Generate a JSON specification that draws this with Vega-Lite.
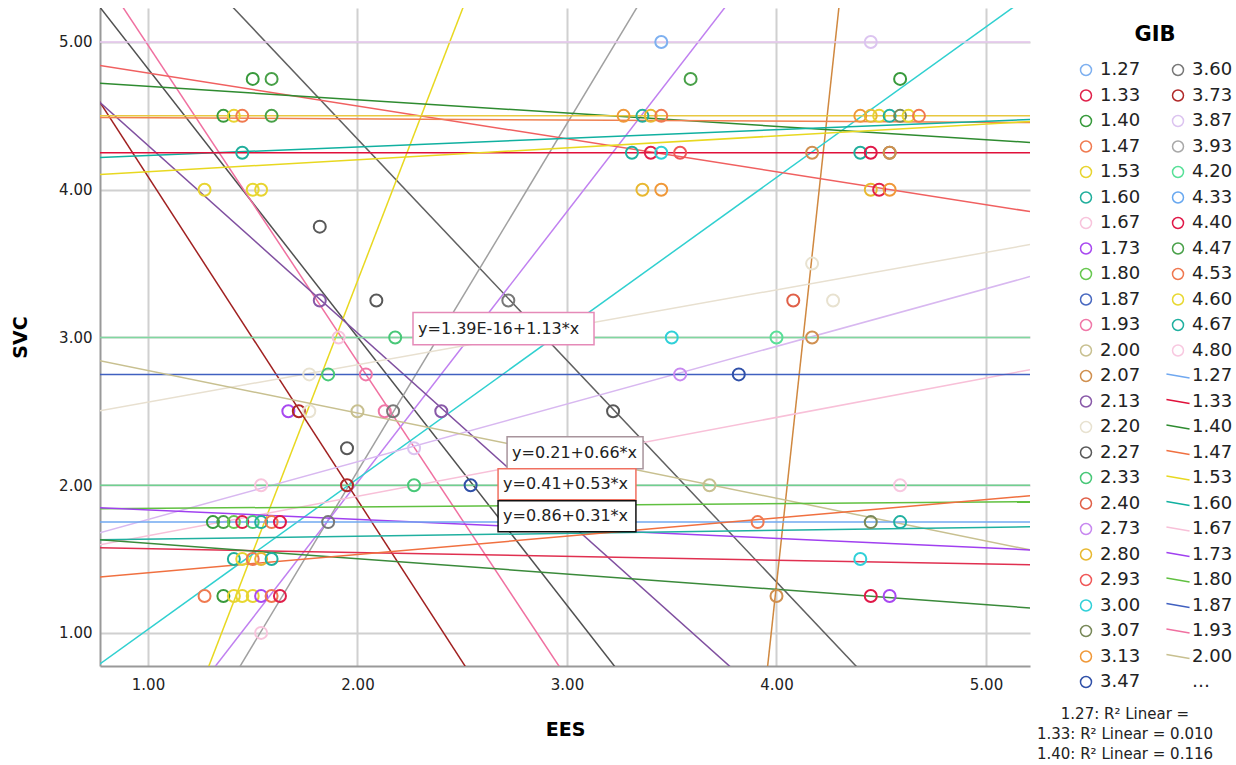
{
  "$schema": "https://vega.github.io/schema/vega-lite/v6.json",
  "width": 930,
  "height": 658,
  "autosize": {"type": "none"},
  "padding": {"left": 100, "top": 8, "right": 206, "bottom": 99},
  "background": "white",
  "config": {
    "view": {"stroke": null},
    "font": "DejaVu Sans"
  },
  "title": {
    "text": ["1.27: R² Linear =", "1.33: R² Linear = 0.010", "1.40: R² Linear = 0.116"],
    "orient": "bottom",
    "anchor": "end",
    "align": "center",
    "frame": "group",
    "font": "DejaVu Sans",
    "fontSize": 15,
    "fontWeight": "normal",
    "color": "#222222",
    "lineHeight": 20,
    "offset": -32,
    "dx": 95
  },
  "datasets": {
    "pts": [
      {"EES": 3.45, "SVC": 5.0, "key": "1.27"}, {"EES": 4.45, "SVC": 5.0, "key": "3.87"},
      {"EES": 1.50, "SVC": 4.75, "key": "1.40"}, {"EES": 1.59, "SVC": 4.75, "key": "4.47"}, {"EES": 3.59, "SVC": 4.75, "key": "4.47"}, {"EES": 4.59, "SVC": 4.75, "key": "1.40"},
      {"EES": 1.36, "SVC": 4.5, "key": "1.40"}, {"EES": 1.41, "SVC": 4.5, "key": "1.53"}, {"EES": 1.45, "SVC": 4.5, "key": "1.47"}, {"EES": 1.59, "SVC": 4.5, "key": "4.47"},
      {"EES": 3.27, "SVC": 4.5, "key": "3.13"}, {"EES": 3.36, "SVC": 4.5, "key": "1.60"}, {"EES": 3.40, "SVC": 4.5, "key": "2.80"}, {"EES": 3.45, "SVC": 4.5, "key": "1.47"},
      {"EES": 4.40, "SVC": 4.5, "key": "3.13"}, {"EES": 4.45, "SVC": 4.5, "key": "2.80"}, {"EES": 4.49, "SVC": 4.5, "key": "1.53"}, {"EES": 4.54, "SVC": 4.5, "key": "4.67"}, {"EES": 4.59, "SVC": 4.5, "key": "3.07"}, {"EES": 4.63, "SVC": 4.5, "key": "4.60"}, {"EES": 4.68, "SVC": 4.5, "key": "4.53"},
      {"EES": 1.45, "SVC": 4.25, "key": "1.60"}, {"EES": 3.31, "SVC": 4.25, "key": "4.67"}, {"EES": 3.40, "SVC": 4.25, "key": "1.33"}, {"EES": 3.45, "SVC": 4.25, "key": "3.00"}, {"EES": 3.54, "SVC": 4.25, "key": "2.93"},
      {"EES": 4.17, "SVC": 4.25, "key": "2.07"}, {"EES": 4.40, "SVC": 4.25, "key": "1.60"}, {"EES": 4.45, "SVC": 4.25, "key": "4.40"}, {"EES": 4.54, "SVC": 4.25, "key": "3.07"}, {"EES": 4.54, "SVC": 4.25, "key": "2.07"},
      {"EES": 1.27, "SVC": 4.0, "key": "1.53"}, {"EES": 1.50, "SVC": 4.0, "key": "4.60"}, {"EES": 1.54, "SVC": 4.0, "key": "1.53"}, {"EES": 3.36, "SVC": 4.0, "key": "2.80"}, {"EES": 3.45, "SVC": 4.0, "key": "3.13"},
      {"EES": 4.45, "SVC": 4.0, "key": "2.80"}, {"EES": 4.49, "SVC": 4.0, "key": "1.33"}, {"EES": 4.54, "SVC": 4.0, "key": "3.13"},
      {"EES": 1.82, "SVC": 3.75, "key": "2.27"},
      {"EES": 4.17, "SVC": 3.5, "key": "2.20"},
      {"EES": 1.82, "SVC": 3.25, "key": "2.13"}, {"EES": 2.09, "SVC": 3.25, "key": "2.27"}, {"EES": 2.72, "SVC": 3.25, "key": "3.60"}, {"EES": 4.08, "SVC": 3.25, "key": "2.40"}, {"EES": 4.27, "SVC": 3.25, "key": "2.20"},
      {"EES": 1.91, "SVC": 3.0, "key": "1.67"}, {"EES": 2.18, "SVC": 3.0, "key": "2.33"}, {"EES": 3.50, "SVC": 3.0, "key": "3.00"}, {"EES": 4.00, "SVC": 3.0, "key": "4.20"}, {"EES": 4.17, "SVC": 3.0, "key": "2.07"},
      {"EES": 1.77, "SVC": 2.75, "key": "2.20"}, {"EES": 1.86, "SVC": 2.75, "key": "2.33"}, {"EES": 2.04, "SVC": 2.75, "key": "1.93"}, {"EES": 3.54, "SVC": 2.75, "key": "2.73"}, {"EES": 3.82, "SVC": 2.75, "key": "3.47"},
      {"EES": 1.67, "SVC": 2.5, "key": "1.73"}, {"EES": 1.72, "SVC": 2.5, "key": "3.73"}, {"EES": 1.77, "SVC": 2.5, "key": "2.20"}, {"EES": 2.00, "SVC": 2.5, "key": "2.00"}, {"EES": 2.13, "SVC": 2.5, "key": "1.93"}, {"EES": 2.17, "SVC": 2.5, "key": "3.60"}, {"EES": 2.40, "SVC": 2.5, "key": "2.13"}, {"EES": 3.22, "SVC": 2.5, "key": "2.27"},
      {"EES": 1.95, "SVC": 2.25, "key": "2.27"}, {"EES": 2.27, "SVC": 2.25, "key": "3.87"},
      {"EES": 1.54, "SVC": 2.0, "key": "1.67"}, {"EES": 1.95, "SVC": 2.0, "key": "3.73"}, {"EES": 2.27, "SVC": 2.0, "key": "2.33"}, {"EES": 2.54, "SVC": 2.0, "key": "3.47"}, {"EES": 3.68, "SVC": 2.0, "key": "2.00"}, {"EES": 4.59, "SVC": 2.0, "key": "4.80"},
      {"EES": 1.31, "SVC": 1.75, "key": "1.40"}, {"EES": 1.36, "SVC": 1.75, "key": "4.47"}, {"EES": 1.41, "SVC": 1.75, "key": "1.80"}, {"EES": 1.45, "SVC": 1.75, "key": "1.33"}, {"EES": 1.50, "SVC": 1.75, "key": "2.33"}, {"EES": 1.54, "SVC": 1.75, "key": "1.60"}, {"EES": 1.59, "SVC": 1.75, "key": "1.47"}, {"EES": 1.63, "SVC": 1.75, "key": "4.40"},
      {"EES": 1.86, "SVC": 1.75, "key": "3.60"}, {"EES": 3.91, "SVC": 1.75, "key": "4.53"}, {"EES": 4.45, "SVC": 1.75, "key": "3.07"}, {"EES": 4.59, "SVC": 1.75, "key": "4.67"},
      {"EES": 1.41, "SVC": 1.5, "key": "1.60"}, {"EES": 1.45, "SVC": 1.5, "key": "1.53"}, {"EES": 1.50, "SVC": 1.5, "key": "1.47"}, {"EES": 1.54, "SVC": 1.5, "key": "2.80"}, {"EES": 1.59, "SVC": 1.5, "key": "4.67"}, {"EES": 4.40, "SVC": 1.5, "key": "3.00"},
      {"EES": 1.27, "SVC": 1.25, "key": "1.47"}, {"EES": 1.36, "SVC": 1.25, "key": "1.40"}, {"EES": 1.41, "SVC": 1.25, "key": "1.53"}, {"EES": 1.45, "SVC": 1.25, "key": "4.60"}, {"EES": 1.50, "SVC": 1.25, "key": "1.53"}, {"EES": 1.54, "SVC": 1.25, "key": "1.73"}, {"EES": 1.59, "SVC": 1.25, "key": "4.53"}, {"EES": 1.63, "SVC": 1.25, "key": "1.33"},
      {"EES": 4.00, "SVC": 1.25, "key": "2.07"}, {"EES": 4.45, "SVC": 1.25, "key": "4.40"}, {"EES": 4.54, "SVC": 1.25, "key": "1.73"},
      {"EES": 1.54, "SVC": 1.0, "key": "1.67"}
    ],
    "lns": [
      {"key": "L2.27", "EES": 0.735, "SVC": 5.30}, {"key": "L2.27", "EES": 3.268, "SVC": 0.70},
      {"key": "L1.93", "EES": 0.850, "SVC": 5.30}, {"key": "L1.93", "EES": 2.997, "SVC": 0.70},
      {"key": "L3.60", "EES": 1.362, "SVC": 5.30}, {"key": "L3.60", "EES": 4.430, "SVC": 0.70},
      {"key": "L1.53", "EES": 1.270, "SVC": 0.70}, {"key": "L1.53", "EES": 2.522, "SVC": 5.30},
      {"key": "L3.93", "EES": 1.408, "SVC": 0.70}, {"key": "L3.93", "EES": 3.362, "SVC": 5.30},
      {"key": "L2.73", "EES": 1.281, "SVC": 0.70}, {"key": "L2.73", "EES": 3.790, "SVC": 5.30},
      {"key": "L2.07", "EES": 3.952, "SVC": 0.70}, {"key": "L2.07", "EES": 4.303, "SVC": 5.30},
      {"key": "L3.00", "EES": 0.70, "SVC": 0.718}, {"key": "L3.00", "EES": 5.194, "SVC": 5.30},
      {"key": "L3.73", "EES": 0.70, "SVC": 4.746}, {"key": "L3.73", "EES": 2.548, "SVC": 0.70},
      {"key": "L2.13", "EES": 0.70, "SVC": 4.681}, {"key": "L2.13", "EES": 3.835, "SVC": 0.70},
      {"key": "L2.93", "EES": 0.77, "SVC": 4.841}, {"key": "L2.93", "EES": 5.21, "SVC": 3.852},
      {"key": "L1.40", "EES": 0.77, "SVC": 4.720}, {"key": "L1.40", "EES": 5.21, "SVC": 4.320},
      {"key": "L4.53", "EES": 0.77, "SVC": 4.489}, {"key": "L4.53", "EES": 5.21, "SVC": 4.455},
      {"key": "L2.80", "EES": 0.77, "SVC": 4.50}, {"key": "L2.80", "EES": 5.21, "SVC": 4.50},
      {"key": "L1.60", "EES": 0.77, "SVC": 4.218}, {"key": "L1.60", "EES": 5.21, "SVC": 4.476},
      {"key": "L1.33", "EES": 0.77, "SVC": 4.25}, {"key": "L1.33", "EES": 5.21, "SVC": 4.25},
      {"key": "L4.60", "EES": 0.77, "SVC": 4.103}, {"key": "L4.60", "EES": 5.21, "SVC": 4.462},
      {"key": "L2.20", "EES": 0.77, "SVC": 2.504}, {"key": "L2.20", "EES": 5.21, "SVC": 3.629},
      {"key": "L3.87", "EES": 0.77, "SVC": 1.678}, {"key": "L3.87", "EES": 5.21, "SVC": 3.412},
      {"key": "L1.67", "EES": 0.77, "SVC": 1.596}, {"key": "L1.67", "EES": 5.21, "SVC": 2.782},
      {"key": "L4.20", "EES": 0.77, "SVC": 3.00}, {"key": "L4.20", "EES": 5.21, "SVC": 3.00},
      {"key": "L1.87", "EES": 0.77, "SVC": 2.75}, {"key": "L1.87", "EES": 5.21, "SVC": 2.75},
      {"key": "L2.00", "EES": 0.77, "SVC": 2.843}, {"key": "L2.00", "EES": 5.21, "SVC": 1.562},
      {"key": "L2.33", "EES": 0.77, "SVC": 2.00}, {"key": "L2.33", "EES": 5.21, "SVC": 2.00},
      {"key": "L1.80", "EES": 0.77, "SVC": 1.840}, {"key": "L1.80", "EES": 5.21, "SVC": 1.888},
      {"key": "L1.73", "EES": 0.77, "SVC": 1.847}, {"key": "L1.73", "EES": 5.21, "SVC": 1.562},
      {"key": "L1.27", "EES": 0.77, "SVC": 1.75}, {"key": "L1.27", "EES": 5.21, "SVC": 1.75},
      {"key": "L4.67", "EES": 0.77, "SVC": 1.630}, {"key": "L4.67", "EES": 5.21, "SVC": 1.718},
      {"key": "L4.40", "EES": 0.77, "SVC": 1.576}, {"key": "L4.40", "EES": 5.21, "SVC": 1.461},
      {"key": "L4.47", "EES": 0.77, "SVC": 1.630}, {"key": "L4.47", "EES": 5.21, "SVC": 1.169},
      {"key": "L1.47", "EES": 0.77, "SVC": 1.379}, {"key": "L1.47", "EES": 5.21, "SVC": 1.928},
      {"key": "L4.80", "EES": 0.77, "SVC": 5.00}, {"key": "L4.80", "EES": 5.21, "SVC": 5.00}
    ],
    "notes": [
      {"box": "b1", "label": "y=1.39E-16+1.13*x", "x1": 2.265, "x2": 3.129, "y1": 3.168, "y2": 2.951, "ym": 3.06},
      {"box": "b2", "label": "y=0.21+0.66*x", "x1": 2.714, "x2": 3.363, "y1": 2.328, "y2": 2.111, "ym": 2.22},
      {"box": "b3", "label": "y=0.41+0.53*x", "x1": 2.671, "x2": 3.329, "y1": 2.111, "y2": 1.901, "ym": 2.006},
      {"box": "b4", "label": "y=0.86+0.31*x", "x1": 2.671, "x2": 3.329, "y1": 1.894, "y2": 1.684, "ym": 1.789}
    ]
  },
  "layer": [
    {
      "data": {"name": "lns"},
      "mark": {"type": "line", "clip": true, "strokeWidth": 1.5},
      "encoding": {
        "x": {"field": "EES", "type": "quantitative", "scale": {"domain": [0.771, 5.21], "nice": false, "zero": false},
              "axis": {"title": "EES", "values": [1, 2, 3, 4, 5], "format": ".2f",
                       "labelFont": "DejaVu Sans", "labelFontSize": 15, "labelColor": "#222222", "labelPadding": 11,
                       "titleFont": "DejaVu Sans", "titleFontSize": 19, "titleFontWeight": "bold", "titleColor": "#000000", "titlePadding": 28,
                       "domainColor": "#999999", "domainWidth": 2, "ticks": false, "gridColor": "#d0d0d0", "gridWidth": 2}},
        "y": {"field": "SVC", "type": "quantitative", "scale": {"domain": [0.776, 5.23], "nice": false, "zero": false},
              "axis": {"title": "SVC", "values": [1, 2, 3, 4, 5], "format": ".2f",
                       "labelFont": "DejaVu Sans", "labelFontSize": 15, "labelColor": "#222222", "labelPadding": 8,
                       "titleFont": "DejaVu Sans", "titleFontSize": 19, "titleFontWeight": "bold", "titleColor": "#000000", "titlePadding": 28,
                       "domainColor": "#999999", "domainWidth": 2, "ticks": false, "gridColor": "#d0d0d0", "gridWidth": 2}},
        "color": {"field": "key", "type": "nominal",
          "scale": {
            "domain": ["1.27","1.33","1.40","1.47","1.53","1.60","1.67","1.73","1.80","1.87","1.93","2.00","2.07","2.13","2.20","2.27","2.33","2.40","2.73","2.80","2.93","3.00","3.07","3.13","3.47","3.60","3.73","3.87","3.93","4.20","4.33","4.40","4.47","4.53","4.60","4.67","4.80","L1.27","L1.33","L1.40","L1.47","L1.53","L1.60","L1.67","L1.73","L1.80","L1.87","L1.93","L2.00","…","L2.07","L2.13","L2.20","L2.27","L2.33","L2.73","L2.80","L2.93","L3.00","L3.60","L3.73","L3.87","L3.93","L4.20","L4.40","L4.47","L4.53","L4.60","L4.67","L4.80"],
            "range": ["#7eb0f0","#e0204a","#389a3c","#f07a50","#e8d430","#20ae9c","#f8c4dc","#a848f0","#68c850","#4868c0","#f078a8","#c8c090","#d09050","#8858a8","#e8e2d0","#585858","#48c878","#e06048","#c888f0","#e8b830","#f05858","#30d0d8","#788858","#f09838","#3050a8","#787878","#b02828","#dcc4f0","#a8a8a8","#58e098","#68a8f0","#e01848","#48a048","#f07850","#e8d830","#20b0a0","#f8c8e0","#70a8f0","#e0103a","#2e8b30","#f07040","#e8d820","#10b0a0","#f8c0d8","#a040f0","#60c040","#4060c0","#f070a0","#c8c090","transparent","#d08840","#8050a0","#e8e0d0","#505050","#70d090","#c080f0","#e8c840","#f06060","#30d0d0","#606060","#a02020","#d8b8f0","#a0a0a0","#80d8a0","#e03050","#3a8a3a","#f08050","#e8d820","#20b0a0","#e8c8f0"]
          },
          "legend": {
            "title": "GIB",
            "values": ["1.27","1.33","1.40","1.47","1.53","1.60","1.67","1.73","1.80","1.87","1.93","2.00","2.07","2.13","2.20","2.27","2.33","2.40","2.73","2.80","2.93","3.00","3.07","3.13","3.47","3.60","3.73","3.87","3.93","4.20","4.33","4.40","4.47","4.53","4.60","4.67","4.80","L1.27","L1.33","L1.40","L1.47","L1.53","L1.60","L1.67","L1.73","L1.80","L1.87","L1.93","L2.00","…"],
            "columns": 2,
            "symbolLimit": 0,
            "labelExpr": "replace(datum.label, 'L', '')",
            "symbolSize": 121,
            "symbolStrokeWidth": 1.5,
            "symbolFillColor": "transparent",
            "labelFont": "DejaVu Sans",
            "labelFontSize": 18,
            "labelColor": "#222222",
            "labelOffset": 5,
            "labelLimit": 200,
            "titleFont": "DejaVu Sans",
            "titleFontSize": 21,
            "titleFontWeight": "bold",
            "titleColor": "#000000",
            "titleAnchor": "middle",
            "titlePadding": 16,
            "rowPadding": 7.5,
            "columnPadding": 22,
            "padding": 16,
            "offset": 31
          }
        }
      }
    },
    {
      "data": {"name": "pts"},
      "mark": {"type": "point", "filled": false, "size": 144, "strokeWidth": 2, "clip": true, "opacity": 1},
      "encoding": {
        "x": {"field": "EES", "type": "quantitative"},
        "y": {"field": "SVC", "type": "quantitative"},
        "color": {"field": "key", "type": "nominal"},
        "shape": {"field": "key", "type": "nominal",
          "scale": {
            "domain": ["1.27","1.33","1.40","1.47","1.53","1.60","1.67","1.73","1.80","1.87","1.93","2.00","2.07","2.13","2.20","2.27","2.33","2.40","2.73","2.80","2.93","3.00","3.07","3.13","3.47","3.60","3.73","3.87","3.93","4.20","4.33","4.40","4.47","4.53","4.60","4.67","4.80","L1.27","L1.33","L1.40","L1.47","L1.53","L1.60","L1.67","L1.73","L1.80","L1.87","L1.93","L2.00","…","L2.07","L2.13","L2.20","L2.27","L2.33","L2.73","L2.80","L2.93","L3.00","L3.60","L3.73","L3.87","L3.93","L4.20","L4.40","L4.47","L4.53","L4.60","L4.67","L4.80"],
            "range": ["circle","circle","circle","circle","circle","circle","circle","circle","circle","circle","circle","circle","circle","circle","circle","circle","circle","circle","circle","circle","circle","circle","circle","circle","circle","circle","circle","circle","circle","circle","circle","circle","circle","circle","circle","circle","circle",
              "M-2.1,-0.35L2.1,0.35","M-2.1,-0.35L2.1,0.35","M-2.1,-0.35L2.1,0.35","M-2.1,-0.35L2.1,0.35","M-2.1,-0.35L2.1,0.35","M-2.1,-0.35L2.1,0.35","M-2.1,-0.35L2.1,0.35","M-2.1,-0.35L2.1,0.35","M-2.1,-0.35L2.1,0.35","M-2.1,-0.35L2.1,0.35","M-2.1,-0.35L2.1,0.35","M-2.1,-0.35L2.1,0.35","M0,0",
              "M-2.1,-0.35L2.1,0.35","M-2.1,-0.35L2.1,0.35","M-2.1,-0.35L2.1,0.35","M-2.1,-0.35L2.1,0.35","M-2.1,-0.35L2.1,0.35","M-2.1,-0.35L2.1,0.35","M-2.1,-0.35L2.1,0.35","M-2.1,-0.35L2.1,0.35","M-2.1,-0.35L2.1,0.35","M-2.1,-0.35L2.1,0.35","M-2.1,-0.35L2.1,0.35","M-2.1,-0.35L2.1,0.35","M-2.1,-0.35L2.1,0.35","M-2.1,-0.35L2.1,0.35","M-2.1,-0.35L2.1,0.35","M-2.1,-0.35L2.1,0.35","M-2.1,-0.35L2.1,0.35","M-2.1,-0.35L2.1,0.35","M-2.1,-0.35L2.1,0.35","M-2.1,-0.35L2.1,0.35"]
          }
        }
      }
    },
    {
      "data": {"name": "notes"},
      "mark": {"type": "rect", "fill": "white", "strokeWidth": 1.5},
      "encoding": {
        "x": {"field": "x1", "type": "quantitative"},
        "x2": {"field": "x2"},
        "y": {"field": "y1", "type": "quantitative"},
        "y2": {"field": "y2"},
        "stroke": {"field": "box", "type": "nominal", "scale": {"domain": ["b1", "b2", "b3", "b4"], "range": ["#e58ab8", "#a8949c", "#f07060", "#111111"]}, "legend": null}
      }
    },
    {
      "data": {"name": "notes"},
      "mark": {"type": "text", "align": "left", "baseline": "middle", "dx": 5, "fontSize": 16, "font": "DejaVu Sans", "color": "#222222"},
      "encoding": {
        "x": {"field": "x1", "type": "quantitative"},
        "y": {"field": "ym", "type": "quantitative"},
        "text": {"field": "label"}
      }
    }
  ]
}
